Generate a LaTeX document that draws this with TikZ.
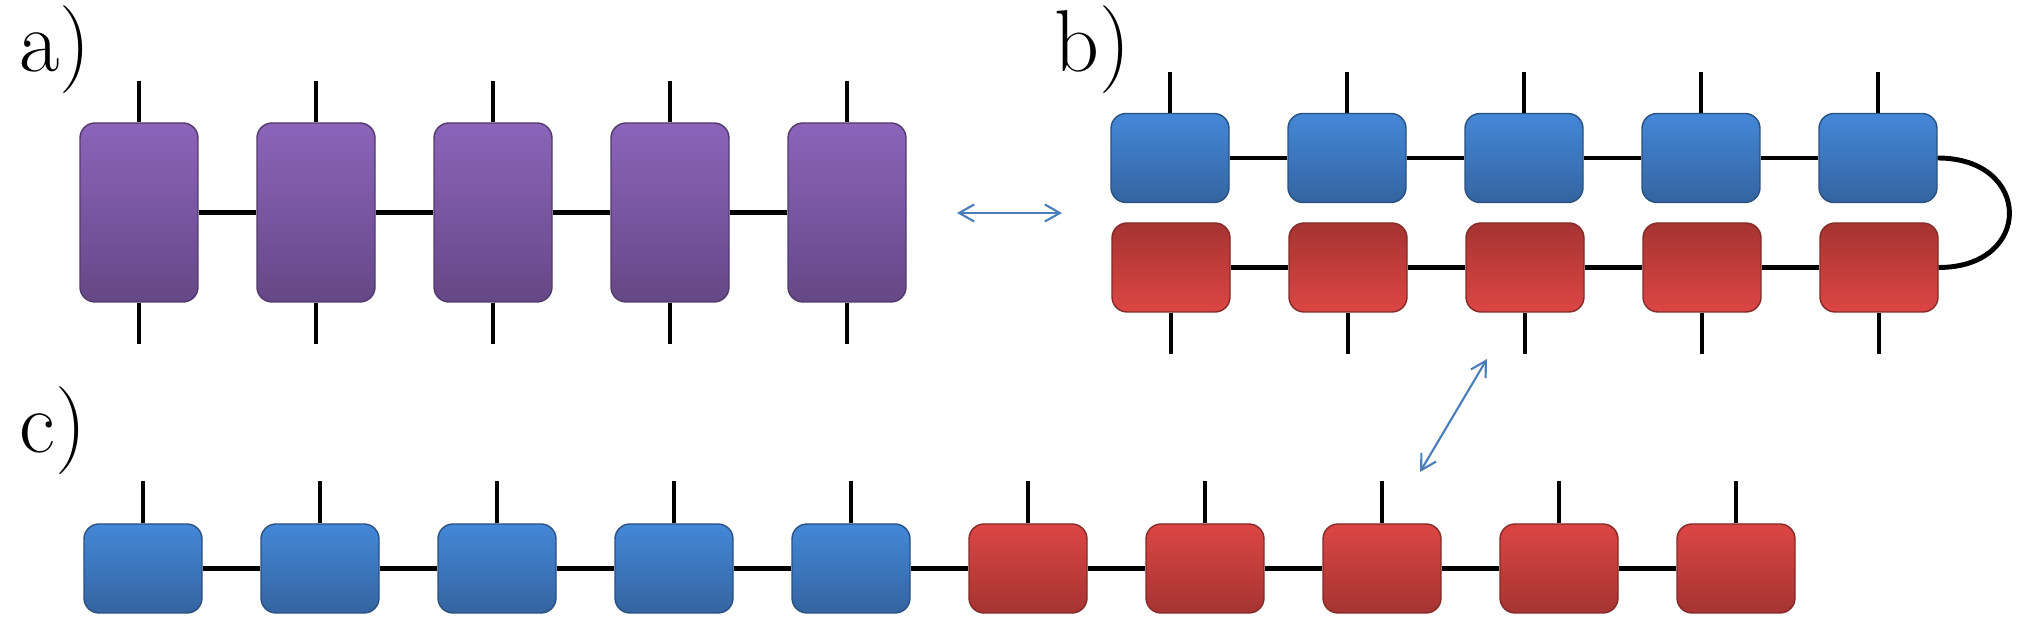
\documentclass[tikz,border=0pt]{standalone}
\usepackage{tikz}
\usetikzlibrary{arrows.meta}
\definecolor{violettop}{RGB}{140,100,186}
\definecolor{violetbot}{RGB}{101,72,134}
\definecolor{bluetop}{RGB}{68,136,216}
\definecolor{bluebot}{RGB}{52,100,160}
\definecolor{redlight}{RGB}{220,70,68}
\definecolor{reddark}{RGB}{165,52,50}
\definecolor{arrowblue}{RGB}{74,126,187}
\tikzset{
    tens/.style={rounded corners=1.5mm,minimum width=1.18cm,inner sep=0pt,line width=0.4pt},
    violetbox/.style={tens,minimum height=1.79cm,top color=violettop,bottom color=violetbot,draw=violetbot!80!black},
    bluebox/.style={tens,minimum height=0.89cm,top color=bluetop,bottom color=bluebot,draw=bluebot!80!black},
    redbox/.style={tens,minimum height=0.89cm,top color=redlight,bottom color=reddark,draw=reddark!80!black},
    redflip/.style={tens,minimum height=0.89cm,top color=reddark,bottom color=redlight,draw=reddark!80!black},
    lab/.style={anchor=base west,inner sep=0pt,font=\fontsize{25}{30}\selectfont},
    twoway/.style={{Straight Barb[length=1.5mm,width=1.7mm]}-{Straight Barb[length=1.5mm,width=1.7mm]},draw=arrowblue,line width=0.6pt}
}

\begin{document}
\begin{tikzpicture}[line width=1.4pt,node distance=1.77cm]
    \useasboundingbox (0,0) rectangle (20.31,-6.33);

    % a) purple chain
    \begin{scope}
        \node[lab] (la) at (0.17,-0.72) {a)};
        \node[violetbox] (a1) at (1.39,-2.125) {};
        \foreach \i [count=\j from 2] in {1,...,4}
            \node[violetbox,right of=a\i] (a\j) {};
        \foreach \i [count=\j from 2] in {1,...,4}
            \draw (a\i.east) -- (a\j.west);
        \foreach \i in {1,...,5} {
            \draw (a\i.north) -- ++(0,0.41) coordinate (au\i);
            \draw (a\i.south) -- ++(0,-0.41) coordinate (ad\i);
        }
    \end{scope}

    % b) blue over red, closed on the right
    \begin{scope}
        \node[lab] (lb) at (10.52,-0.72) {b)};
        \node[bluebox] (b1) at (11.70,-1.58) {};
        \node[redflip] (r1) at (11.71,-2.675) {};
        \foreach \i [count=\j from 2] in {1,...,4} {
            \node[bluebox,right of=b\i] (b\j) {};
            \node[redflip,right of=r\i] (r\j) {};
            \draw (b\i.east) -- (b\j.west);
            \draw (r\i.east) -- (r\j.west);
        }
        \foreach \i in {1,...,5} {
            \draw (b\i.north) -- ++(0,0.41) coordinate (bu\i);
            \draw (r\i.south) -- ++(0,-0.41) coordinate (rd\i);
        }
        \draw (b5.east) .. controls +(0.95,0) and +(0.95,0) .. (r5.east);
    \end{scope}

    % c) one long chain
    \begin{scope}
        \node[lab] (lc) at (0.17,-4.53) {c)};
        \node[bluebox] (c1) at (1.43,-5.685) {};
        \foreach \i [count=\j from 2] in {1,...,4}
            \node[bluebox,right of=c\i] (c\j) {};
        \foreach \i [count=\j from 6] in {5,...,9}
            \node[redbox,right of=c\i] (c\j) {};
        \foreach \i [count=\j from 2] in {1,...,9}
            \draw (c\i.east) -- (c\j.west);
        \foreach \i in {1,...,10}
            \draw (c\i.north) -- ++(0,0.42) coordinate (cu\i);
    \end{scope}

    % blue arrows
    \coordinate (ab1) at (9.57,-2.13);
    \coordinate (ab2) at (10.62,-2.13);
    \draw[twoway] (ab1) -- (ab2);
    \coordinate (bc1) at (14.20,-4.72);
    \coordinate (bc2) at (14.87,-3.59);
    \draw[twoway] (bc1) -- (bc2);
\end{tikzpicture}
\end{document}
